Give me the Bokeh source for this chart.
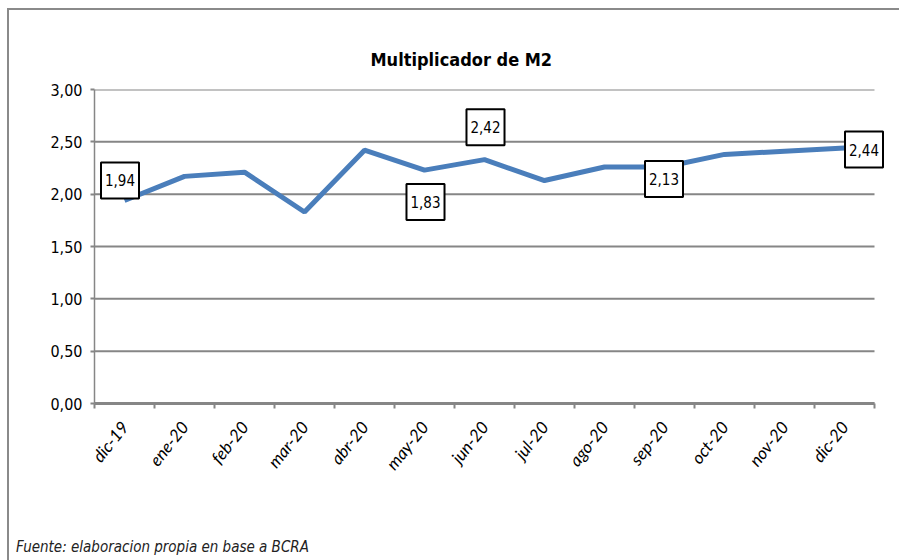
from bokeh.plotting import figure
from bokeh.models import FixedTicker, Label, Range1d, Div
from bokeh.layouts import column
from bokeh.embed import file_html
from bokeh.resources import INLINE

# ---- data ----
months = ["dic-19", "ene-20", "feb-20", "mar-20", "abr-20", "may-20", "jun-20",
          "jul-20", "ago-20", "sep-20", "oct-20", "nov-20", "dic-20"]
multiplier = [1.94, 2.17, 2.21, 1.83, 2.42, 2.23, 2.33, 2.13, 2.26, 2.26, 2.38, 2.41, 2.44]
y_ticks = [0.0, 0.5, 1.0, 1.5, 2.0, 2.5, 3.0]
y_tick_labels = ["0,00", "0,50", "1,00", "1,50", "2,00", "2,50", "3,00"]
label_months = ["dic-19", "mar-20", "abr-20", "jul-20", "dic-20"]
label_dx = [-4.5, 121, 121, 119.5, 19.5]   # pixel offsets of the callout boxes
label_dy = [20, 10, 23, 1.5, -1.5]

NARROW = "DejaVu Sans Condensed"
GRID = "#868686"

idx = list(range(len(months)))
x_lo, x_hi = -0.5, len(months) - 0.5

p = figure(width=880, height=515, output_backend="svg", toolbar_location=None,
           x_range=Range1d(x_lo, x_hi + 0.2), y_range=Range1d(0, 3),
           min_border_left=85, min_border_right=3, min_border_top=79, min_border_bottom=122)
p.outline_line_color = None
p.background_fill_color = "white"
p.border_fill_color = "white"

# title
p.title.text = "Multiplicador de M2"
p.title.align = "left"
p.title.text_font = NARROW
p.title.text_font_style = "bold"
p.title.text_font_size = "18px"
p.title.text_color = "black"
p.title.offset = 276
p.title.standoff = 40

# grid drawn as segments so it stops at the last category
p.xgrid.visible = False
p.ygrid.visible = False
p.segment(x0=[x_lo] * len(y_ticks), x1=[x_hi] * len(y_ticks), y0=y_ticks, y1=y_ticks,
          line_color=GRID, line_width=2)

# x axis
p.xaxis.bounds = (x_lo, x_hi)
p.xaxis.ticker = FixedTicker(ticks=idx, minor_ticks=[i - 0.5 for i in range(len(months) + 1)])
p.xaxis.major_label_overrides = {i: m for i, m in enumerate(months)}
p.xaxis.major_tick_line_color = None
p.xaxis.minor_tick_line_color = GRID
p.xaxis.minor_tick_line_width = 2
p.xaxis.minor_tick_in = 0
p.xaxis.minor_tick_out = 5
p.xaxis.axis_line_color = GRID
p.xaxis.axis_line_width = 3
p.xaxis.major_label_orientation = 0.9
p.xaxis.major_label_text_font = "Lato"
p.xaxis.major_label_text_font_style = "italic"
p.xaxis.major_label_text_font_size = "17px"
p.xaxis.major_label_text_color = "black"
p.xaxis.major_label_standoff = 14

# y axis
p.yaxis.ticker = FixedTicker(ticks=y_ticks)
p.yaxis.major_label_overrides = dict(zip(y_ticks, y_tick_labels))
p.yaxis.minor_tick_line_color = None
p.yaxis.major_tick_line_color = GRID
p.yaxis.major_tick_line_width = 2
p.yaxis.major_tick_in = 0
p.yaxis.major_tick_out = 4
p.yaxis.axis_line_color = GRID
p.yaxis.axis_line_width = 1.5
p.yaxis.major_label_text_font = NARROW
p.yaxis.major_label_text_font_size = "16px"
p.yaxis.major_label_text_color = "black"
p.yaxis.major_label_standoff = 8

# series line
p.line(idx, multiplier, line_color="#4a7ebb", line_width=5)

# callout labels
for m, dx, dy in zip(label_months, label_dx, label_dy):
    i = months.index(m)
    p.add_layout(Label(x=i, y=multiplier[i], x_offset=dx, y_offset=dy,
                       text=f"{multiplier[i]:.2f}".replace(".", ","),
                       text_align="center", text_baseline="middle",
                       text_font=NARROW, text_font_size="15px", text_color="black",
                       background_fill_color="white", border_line_color="black",
                       border_line_width=2, padding=(4, 12)))

# footer
footer = Div(text="Fuente: elaboracion propia en base a BCRA", width=880, height=30,
             styles={"font-family": NARROW, "font-style": "italic", "font-size": "15px",
                     "color": "#222222", "padding-left": "2px", "padding-top": "7px",
                     "box-sizing": "border-box"})

layout = column(p, footer, spacing=0,
                styles={"border-left": "2px solid #8a8a8a", "border-top": "2px solid #8a8a8a",
                        "margin-left": "7px", "margin-top": "8px", "background": "white"})

open("out.html", "w").write(file_html(layout, INLINE))
